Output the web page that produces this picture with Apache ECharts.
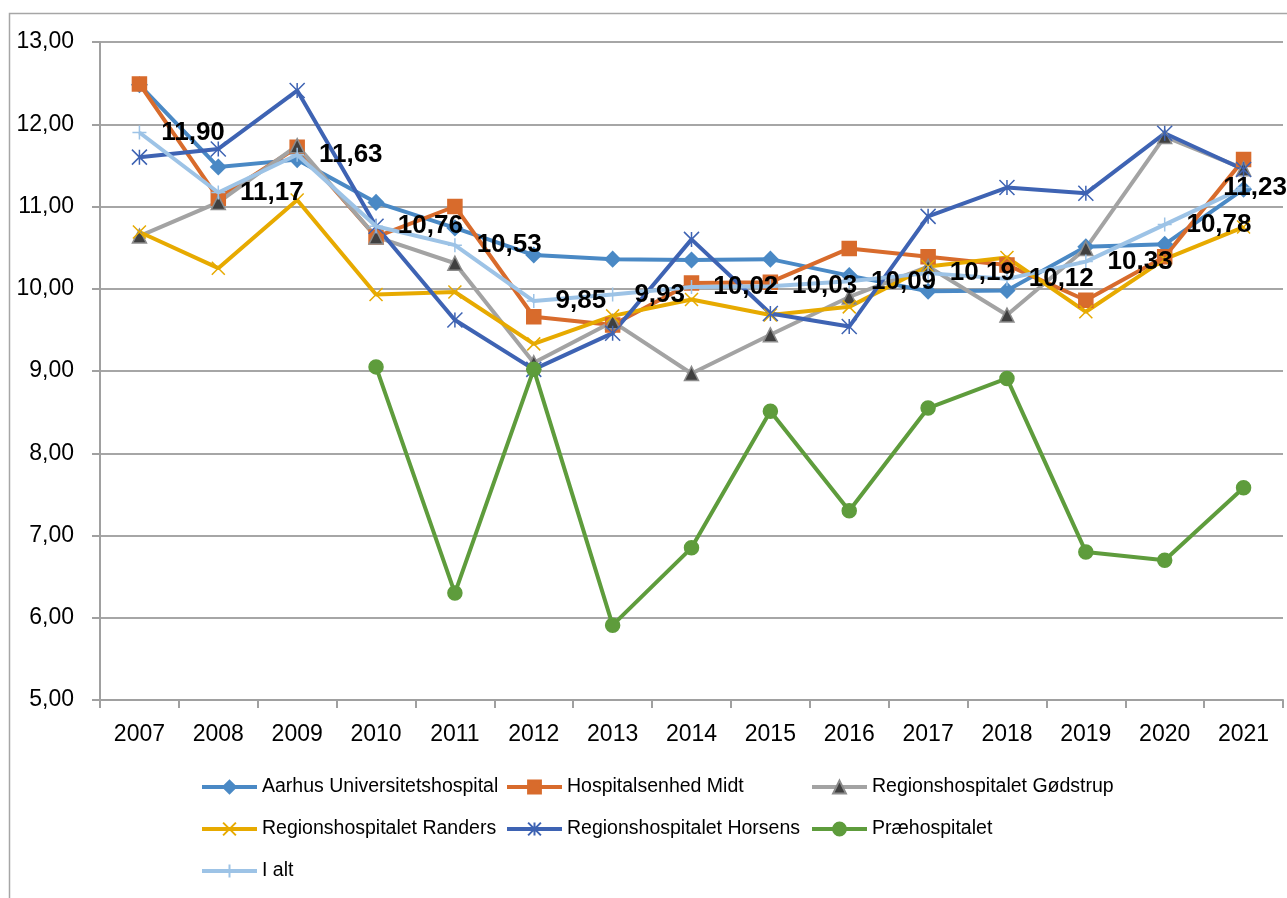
<!DOCTYPE html>
<html>
<head>
<meta charset="utf-8">
<script src="https://cdn.jsdelivr.net/npm/echarts@6/dist/echarts.min.js"></script>
<style>
  html, body { margin: 0; padding: 0; background: #fff; }
  #chart { width: 1287px; height: 898px; }
</style>
</head>
<body>
<div id="chart"></div>
<script>
const years = ["2007", "2008", "2009", "2010", "2011", "2012", "2013", "2014", "2015", "2016", "2017", "2018", "2019", "2020", "2021"];

const aarhus = [12.48, 11.48, 11.57, 11.05, 10.74, 10.41, 10.36, 10.35, 10.36, 10.16, 9.97, 9.98, 10.51, 10.54, 11.21];
const midt = [12.49, 11.10, 11.72, 10.63, 11.00, 9.66, 9.56, 10.07, 10.08, 10.49, 10.39, 10.29, 9.86, 10.39, 11.57];
const goedstrup = [10.64, 11.05, 11.74, 10.63, 10.31, 9.10, 9.60, 8.97, 9.44, 9.90, 10.27, 9.68, 10.49, 11.85, 11.46];
const randers = [10.69, 10.25, 11.08, 9.93, 9.96, 9.33, 9.67, 9.87, 9.68, 9.78, 10.27, 10.38, 9.72, 10.36, 10.75];
const horsens = [11.60, 11.70, 12.41, 10.76, 9.62, 9.02, 9.46, 10.60, 9.70, 9.54, 10.88, 11.23, 11.16, 11.89, 11.45];
const praehosp = [null, null, null, 9.05, 6.30, 9.02, 5.91, 6.85, 8.51, 7.30, 8.55, 8.91, 6.80, 6.70, 7.58];
const ialt = [11.90, 11.17, 11.63, 10.76, 10.53, 9.85, 9.93, 10.02, 10.03, 10.09, 10.19, 10.12, 10.33, 10.78, 11.23];

const fmt = (v) => v.toFixed(2).replace(".", ",");
const FONT = "Liberation Sans";

const xPath = "path://M0,0L10,10M10,0L0,10";
const starPath = "path://M5,0L5,10M0,0L10,10M10,0L0,10";
const plusPath = "path://M5,0L5,10M0,5L10,5";

function line(name, data, color, symbol, size, marker, border) {
  return {
    name: name,
    type: "line",
    data: data,
    symbol: symbol,
    symbolSize: size,
    showSymbol: true,
    connectNulls: false,
    lineStyle: { color: color, width: 4 },
    itemStyle: {
      color: marker || color,
      borderColor: border || marker || color,
      borderWidth: 1.5,
    },
    emphasis: { disabled: true },
  };
}

// last label is pulled back inside the picture, like in the original
const ialtData = ialt.map((v, i) =>
  i === ialt.length - 1 ? { value: v, label: { offset: [-42, 0] } } : v
);

const series = [
  line("Aarhus Universitetshospital", aarhus, "#4A89C5", "diamond", 15),
  line("Hospitalsenhed Midt", midt, "#D86B2C", "rect", 14),
  line("Regionshospitalet Gødstrup", goedstrup, "#A3A3A3", "triangle", 14, "#404040", "#8C8C8C"),
  line("Regionshospitalet Randers", randers, "#E7AA00", xPath, 13),
  line("Regionshospitalet Horsens", horsens, "#3E63B3", starPath, 15),
  line("Præhospitalet", praehosp, "#5E9C3C", "circle", 14),
  line("I alt", ialtData, "#9DC3E6", plusPath, 14),
];
series[6].label = {
  show: true,
  position: "right",
  distance: 14,
  color: "#000",
  fontFamily: FONT,
  fontWeight: "bold",
  fontSize: 26,
  formatter: (p) => fmt(p.value),
};
series[6].z = 5;

const legendBase = {
  orient: "vertical",
  top: 777,
  padding: 0,
  itemWidth: 55,
  itemHeight: 16,
  itemGap: 22,
  selectedMode: false,
  lineStyle: { width: 4 },
  textStyle: { fontFamily: FONT, fontSize: 19.5, color: "#000", lineHeight: 16, height: 16 },
};

const option = {
  animation: false,
  backgroundColor: "#fff",
  textStyle: { fontFamily: FONT },
  graphic: [
    {
      type: "polyline",
      shape: { points: [[9.5, 898], [9.5, 13.5], [1287, 13.5]] },
      style: { stroke: "#A6A6A6", lineWidth: 1.5, fill: null },
    },
  ],
  legend: [
    Object.assign({}, legendBase, { left: 200, data: ["Aarhus Universitetshospital", "Regionshospitalet Randers", "I alt"] }),
    Object.assign({}, legendBase, { left: 505, data: ["Hospitalsenhed Midt", "Regionshospitalet Horsens"] }),
    Object.assign({}, legendBase, { left: 810, data: ["Regionshospitalet Gødstrup", "Præhospitalet"] }),
  ],
  grid: { left: 100, right: 4, top: 42, bottom: 198, containLabel: false },
  xAxis: {
    type: "category",
    data: years,
    boundaryGap: true,
    axisLine: { show: true, lineStyle: { color: "#A0A0A0", width: 2 } },
    axisTick: { show: true, length: 8, lineStyle: { color: "#A0A0A0", width: 2 } },
    axisLabel: { color: "#000", fontFamily: FONT, fontSize: 23, margin: 23 },
    splitLine: { show: false },
  },
  yAxis: {
    type: "value",
    min: 5,
    max: 13,
    interval: 1,
    axisLine: { show: true, lineStyle: { color: "#A0A0A0", width: 2 } },
    axisTick: { show: true, length: 8, lineStyle: { color: "#A0A0A0", width: 2 } },
    axisLabel: { color: "#000", fontFamily: FONT, fontSize: 23, margin: 26, formatter: (v) => fmt(v) },
    splitLine: { show: true, lineStyle: { color: "#A6A6A6", width: 2 } },
  },
  series: series,
};

const chart = echarts.init(document.getElementById("chart"));
chart.setOption(option);
</script>
</body>
</html>
